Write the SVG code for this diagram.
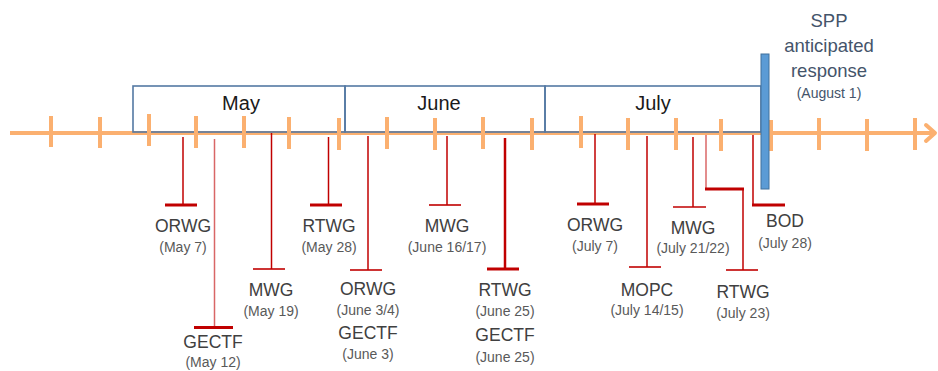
<svg xmlns="http://www.w3.org/2000/svg" width="938" height="371" viewBox="0 0 938 371">
<style>
.axis{stroke:#fbb070;stroke-width:4;fill:none}
.tick{stroke:#fbb070;stroke-width:4}
.month{fill:none;stroke:#5479a3;stroke-width:1.6}
.mtxt{font-family:"Liberation Sans",Arial,sans-serif;font-size:20px;fill:#1a1a1a;text-anchor:middle}
.c{stroke:#c00000;stroke-width:1.5;fill:none}
.ct{stroke:#c00000;stroke-width:2.5;fill:none}
.bar{stroke:#c00000;stroke-width:1.6}
.bart{stroke:#c00000;stroke-width:3}
.lbl{font-family:"Liberation Sans",Arial,sans-serif;font-size:17.5px;fill:#404040;text-anchor:middle}
.sub{font-family:"Liberation Sans",Arial,sans-serif;font-size:14px;fill:#595959;text-anchor:middle}
.spp{font-family:"Liberation Sans",Arial,sans-serif;font-size:18.5px;fill:#44546a;text-anchor:middle}
.spps{font-family:"Liberation Sans",Arial,sans-serif;font-size:14px;fill:#44546a;text-anchor:middle}
</style>
<rect width="938" height="371" fill="#ffffff"/>
<g id="timeline">
<line class="axis" x1="10" y1="133" x2="935" y2="133"/>
<polyline class="axis" points="926,125 935,133 926,141" stroke-linecap="round" stroke-linejoin="round"/>
</g>
<g id="month-may"><rect class="month" x="133" y="86" width="212" height="46"/><text class="mtxt" x="241" y="110">May</text></g>
<g id="month-june"><rect class="month" x="345" y="86" width="200" height="46"/><text class="mtxt" x="439" y="110">June</text></g>
<g id="month-july"><rect class="month" x="545" y="86" width="216" height="46"/><text class="mtxt" x="653" y="110">July</text></g>
<g id="ticks">
<line class="tick" x1="51" y1="116" x2="51" y2="147"/>
<line class="tick" x1="100" y1="117" x2="100" y2="148"/>
<line class="tick" x1="149" y1="114" x2="149" y2="146"/>
<line class="tick" x1="196" y1="116" x2="196" y2="148"/>
<line class="tick" x1="244" y1="116" x2="244" y2="148"/>
<line class="tick" x1="289" y1="117" x2="289" y2="149"/>
<line class="tick" x1="339" y1="118" x2="339" y2="150"/>
<line class="tick" x1="387" y1="117" x2="387" y2="149"/>
<line class="tick" x1="435" y1="118" x2="435" y2="150"/>
<line class="tick" x1="483" y1="117" x2="483" y2="149"/>
<line class="tick" x1="532" y1="118" x2="532" y2="150"/>
<line class="tick" x1="581" y1="116" x2="581" y2="148"/>
<line class="tick" x1="628" y1="118" x2="628" y2="150"/>
<line class="tick" x1="676" y1="118" x2="676" y2="150"/>
<line class="tick" x1="721" y1="119" x2="721" y2="151"/>
<line class="tick" x1="771" y1="120" x2="771" y2="151"/>
<line class="tick" x1="819" y1="118" x2="819" y2="150"/>
<line class="tick" x1="867" y1="119" x2="867" y2="151"/>
<line class="tick" x1="915" y1="118" x2="915" y2="150"/>
</g>
<g id="connectors">
<line class="c" x1="183" y1="137" x2="183" y2="205"/><line class="bart" x1="165" y1="205" x2="197" y2="205"/>
<line class="c" x1="214.5" y1="139" x2="214.5" y2="327" stroke-opacity="0.6"/><line class="bart" x1="194" y1="327.5" x2="233" y2="327.5"/>
<line class="c" x1="271.5" y1="133" x2="271.5" y2="269"/><line class="bar" x1="253" y1="269" x2="285" y2="269"/>
<line class="c" x1="328.5" y1="137" x2="328.5" y2="205"/><line class="bart" x1="310" y1="205" x2="342" y2="205"/>
<line class="c" x1="368" y1="136" x2="368" y2="270"/><line class="bar" x1="350" y1="270" x2="382" y2="270"/>
<line class="c" x1="447" y1="136" x2="447" y2="205"/><line class="bar" x1="429" y1="205" x2="461" y2="205"/>
<line class="ct" x1="505" y1="138" x2="505" y2="269"/><line class="bart" x1="487" y1="269" x2="519" y2="269"/>
<line class="c" x1="595" y1="134" x2="595" y2="204"/><line class="bart" x1="577" y1="204" x2="609" y2="204"/>
<line class="c" x1="647" y1="136" x2="647" y2="267"/><line class="bar" x1="629" y1="267" x2="661" y2="267"/>
<line class="c" x1="693" y1="137" x2="693" y2="207"/><line class="bar" x1="673" y1="207" x2="706" y2="207"/>
<line class="c" x1="706" y1="135" x2="706" y2="189" stroke-opacity="0.6"/><line class="bart" x1="705" y1="189" x2="744" y2="189"/><line class="c" x1="743" y1="189" x2="743" y2="270"/><line class="bar" x1="726" y1="270" x2="758" y2="270"/>
<line class="c" x1="753" y1="135" x2="753" y2="205"/><line class="bart" x1="752" y1="205" x2="785" y2="205"/>
</g>
<g id="spp-response">
<rect x="761" y="54" width="8" height="135" fill="#5b9bd5" stroke="#41719c" stroke-width="1"/>
<text class="spp" x="829" y="27">SPP</text>
<text class="spp" x="829" y="52">anticipated</text>
<text class="spp" x="829" y="77">response</text>
<text class="spps" x="829" y="98">(August 1)</text>
</g>
<g id="orwg-may7"><text class="lbl" x="183" y="232">ORWG</text><text class="sub" x="183" y="252">(May 7)</text></g>
<g id="gectf-may12"><text class="lbl" x="213" y="348">GECTF</text><text class="sub" x="213" y="367">(May 12)</text></g>
<g id="mwg-may19"><text class="lbl" x="271" y="296">MWG</text><text class="sub" x="271" y="316">(May 19)</text></g>
<g id="rtwg-may28"><text class="lbl" x="329" y="232">RTWG</text><text class="sub" x="329" y="252">(May 28)</text></g>
<g id="orwg-june3"><text class="lbl" x="368" y="295">ORWG</text><text class="sub" x="368" y="315">(June 3/4)</text><text class="lbl" x="368" y="339">GECTF</text><text class="sub" x="368" y="359">(June 3)</text></g>
<g id="mwg-june16"><text class="lbl" x="447" y="232">MWG</text><text class="sub" x="447" y="252">(June 16/17)</text></g>
<g id="rtwg-june25"><text class="lbl" x="505" y="296">RTWG</text><text class="sub" x="505" y="316">(June 25)</text><text class="lbl" x="505" y="341">GECTF</text><text class="sub" x="505" y="362">(June 25)</text></g>
<g id="orwg-july7"><text class="lbl" x="595" y="231">ORWG</text><text class="sub" x="595" y="251">(July 7)</text></g>
<g id="mopc-july14"><text class="lbl" x="647" y="296">MOPC</text><text class="sub" x="647" y="315">(July 14/15)</text></g>
<g id="mwg-july21"><text class="lbl" x="693" y="234">MWG</text><text class="sub" x="693" y="253">(July 21/22)</text></g>
<g id="rtwg-july23"><text class="lbl" x="743" y="298">RTWG</text><text class="sub" x="743" y="318">(July 23)</text></g>
<g id="bod-july28"><text class="lbl" x="785" y="227">BOD</text><text class="sub" x="785" y="248">(July 28)</text></g>
</svg>
